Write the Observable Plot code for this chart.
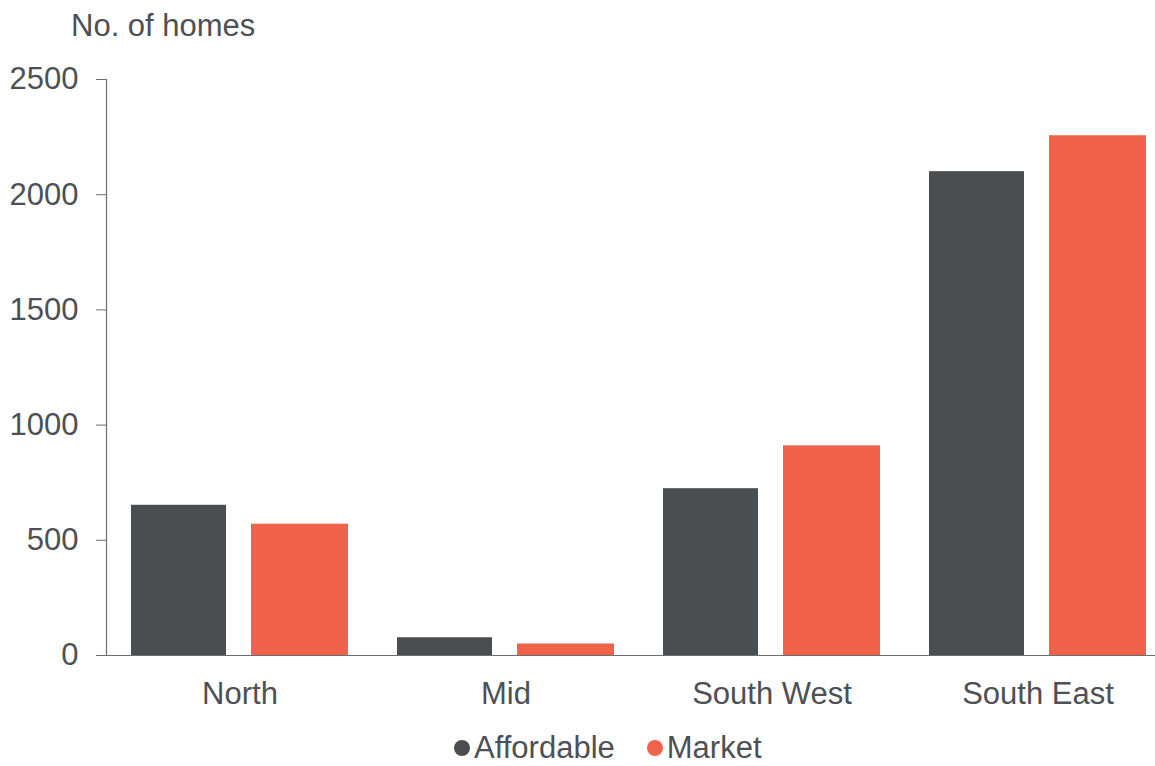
<!DOCTYPE html>
<html>
<head>
<meta charset="utf-8">
<script src="https://cdn.jsdelivr.net/npm/d3@7"></script>
<script src="https://cdn.jsdelivr.net/npm/@observablehq/plot@0.6"></script>
<style>
  html, body { margin: 0; padding: 0; background: #fff; overflow: hidden; }
  body { width: 1155px; height: 766px; position: relative; font-family: "Liberation Sans", Arial, sans-serif; color: #4d5054; }
  #title { position: absolute; left: 71px; top: 6px; font-size: 31px; line-height: 40px; }
  #chart { position: absolute; left: 0; top: 46px; }
  #legend { position: absolute; left: 454px; top: 732px; height: 32px; font-size: 31px; line-height: 32px; display: flex; align-items: center; white-space: nowrap; }
  .sw { display: inline-block; width: 16px; height: 16px; border-radius: 50%; margin-right: 4px; }
  .item { display: flex; align-items: center; }
</style>
</head>
<body>
<div id="title">No. of homes</div>
<div id="chart"></div>
<div id="legend"></div>
<script>
const regions = ["North", "Mid", "South West", "South East"];
const affordable = [652, 77, 724, 2100];
const market = [570, 50, 910, 2256];
const seriesNames = ["Affordable", "Market"];
const seriesColors = ["#4b4e51", "#f0634a"];
const yTicks = [0, 500, 1000, 1500, 2000, 2500];

const dataA = regions.map((r, i) => ({region: r, value: affordable[i]}));
const dataM = regions.map((r, i) => ({region: r, value: market[i]}));

const chart = Plot.plot({
  width: 1155,
  height: 680,
  marginLeft: 106,
  marginRight: 0,
  marginTop: 33,
  marginBottom: 71,
  style: {fontFamily: "Liberation Sans, Arial, sans-serif", color: "#4d5054", background: "transparent"},
  x: {type: "band", domain: regions, range: [106, 1172], paddingInner: 0.1833, paddingOuter: 0.094, label: null},
  y: {domain: [0, 2500], label: null},
  marks: [
    Plot.barY(dataA, {x: "region", y: "value", fill: seriesColors[0], insetLeft: 0, insetRight: 122}),
    Plot.barY(dataM, {x: "region", y: "value", fill: seriesColors[1], insetLeft: 120, insetRight: 0}),
    Plot.ruleY([0], {stroke: "#6e6e6e", strokeWidth: 1.2}),
    Plot.frame({anchor: "left", stroke: "#6e6e6e", strokeWidth: 1.2}),
    Plot.axisY({ticks: yTicks, tickSize: 10, tickPadding: 18, tickFormat: d => String(d), fontSize: 31, stroke: "#6e6e6e", label: null}),
    Plot.axisX({tickSize: 0, tickPadding: 26, fontSize: 31, label: null})
  ]
});
document.getElementById("chart").appendChild(chart);

const legend = document.getElementById("legend");
seriesNames.forEach((name, i) => {
  const item = document.createElement("span");
  item.className = "item";
  if (i > 0) item.style.marginLeft = "32px";
  const sw = document.createElement("span");
  sw.className = "sw";
  sw.style.background = seriesColors[i];
  item.appendChild(sw);
  const t = document.createElement("span");
  t.textContent = name;
  item.appendChild(t);
  legend.appendChild(item);
});
</script>
</body>
</html>
